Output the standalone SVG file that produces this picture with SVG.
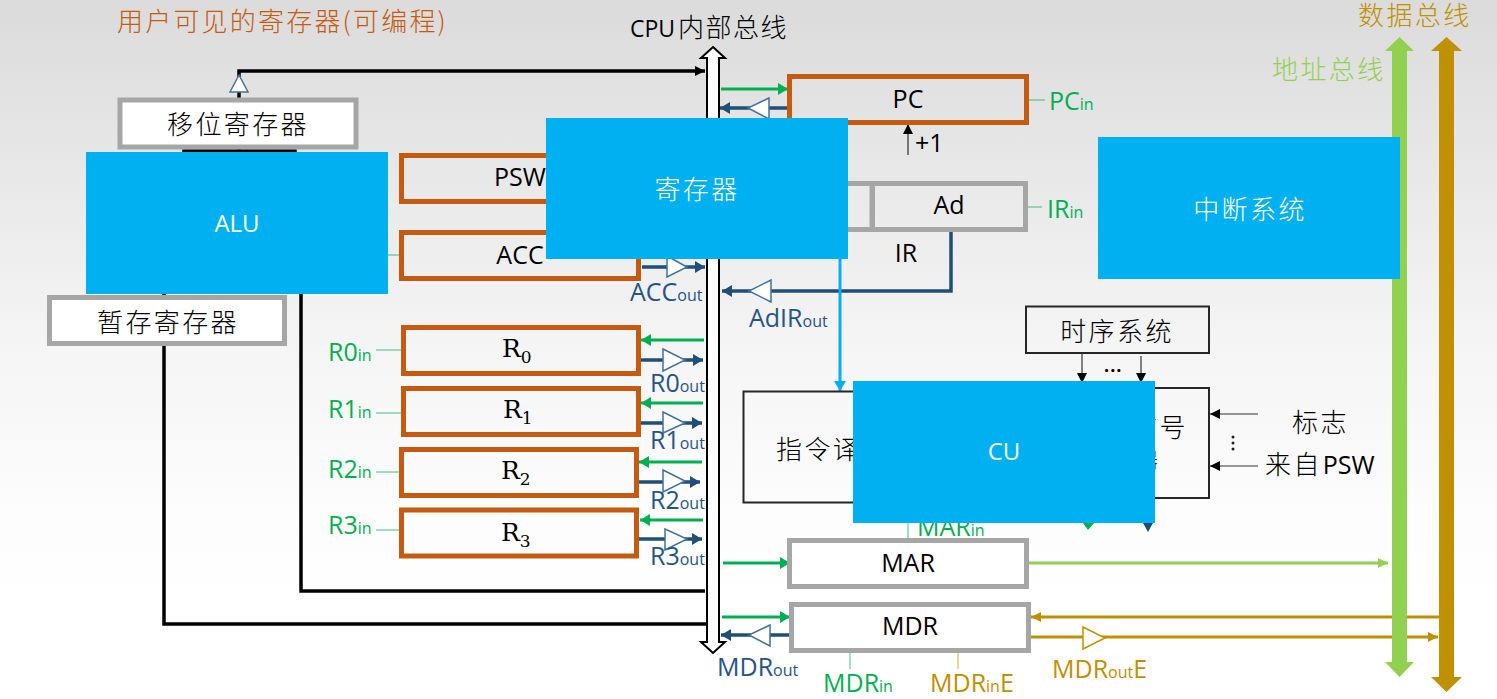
<svg xmlns="http://www.w3.org/2000/svg" width="1497" height="699" viewBox="0 0 1497 699">
  <style>
    text { font-family: "Open Sans", "Noto Sans CJK SC", sans-serif; font-size: 25px; fill: #000; }
    .cjk { font-family: "Noto Sans CJK SC", sans-serif; font-size: 26px; letter-spacing: 2.4px; font-weight: 300; }
    .mid { text-anchor: middle; }
    .math { font-family: "DejaVu Serif", "Liberation Serif", serif; font-size: 25px; }
    .math tspan { font-size: 17px; }
    .sig tspan { font-size: 16px; }
    .green { fill: #00b050; }
    .blue { fill: #255487; }
    .gold { fill: #bf9000; }
    .lime { fill: #92d050; }
    .white { fill: #fff; font-size: 24px; }
    .reg { fill: none; stroke: #c55a11; stroke-width: 5; }
    .grey { fill: none; stroke: #a6a6a6; stroke-width: 5; }
    .solid { fill: #fff; stroke: #a6a6a6; stroke-width: 5; }
    .plain { fill: none; stroke: #262626; stroke-width: 2; }
    .block { fill: #00b0f0; }
    .line { fill: none; stroke-width: 3; }
    .k { stroke: #000; stroke-width: 3.5; fill: none; }
    .g { stroke: #00b050; }
    .b { stroke: #1f4e79; stroke-width: 3.5; }
    .o { stroke: #bf9000; }
    .l { stroke: #92d050; }
    .tick { fill: none; stroke: #00b050; stroke-width: 1; opacity: 0.75; }
    .buf { fill: #fff; stroke: #41719c; stroke-width: 1.5; }
    .bufo { fill: #fff; stroke: #bf9000; stroke-width: 1.5; }
    .thin { fill: none; stroke: #333; stroke-width: 1.2; }
    .bus { fill: #fff; stroke: #000; stroke-width: 2; }
  </style>
  <defs>
    <linearGradient id="bg" x1="0" y1="0" x2="0" y2="1">
      <stop offset="0" stop-color="#dbdbdb"/>
      <stop offset="0.15" stop-color="#e3e3e3"/>
      <stop offset="0.5" stop-color="#f5f5f5"/>
      <stop offset="0.75" stop-color="#fdfdfd"/>
      <stop offset="0.88" stop-color="#ffffff"/>
    </linearGradient>
    <marker id="ag" markerUnits="userSpaceOnUse" markerWidth="12" markerHeight="12" refX="10" refY="6" orient="auto"><path d="M0 0L10 6L0 12Z" fill="#00b050"/></marker>
    <marker id="ab" markerUnits="userSpaceOnUse" markerWidth="12" markerHeight="12" refX="10" refY="6" orient="auto"><path d="M0 0L10 6L0 12Z" fill="#1f4e79"/></marker>
    <marker id="ao" markerUnits="userSpaceOnUse" markerWidth="12" markerHeight="12" refX="10" refY="6" orient="auto"><path d="M0 1L10 6L0 11Z" fill="#bf9000"/></marker>
    <marker id="al" markerUnits="userSpaceOnUse" markerWidth="12" markerHeight="12" refX="10" refY="6" orient="auto"><path d="M0 1L10 6L0 11Z" fill="#92d050"/></marker>
    <marker id="ak" markerUnits="userSpaceOnUse" markerWidth="12" markerHeight="12" refX="10" refY="6" orient="auto"><path d="M0 1L10 6L0 11Z" fill="#000"/></marker>
    <marker id="ac" markerUnits="userSpaceOnUse" markerWidth="12" markerHeight="12" refX="10" refY="6" orient="auto"><path d="M0 0L10 6L0 12Z" fill="#00b0f0"/></marker>
  </defs>

  <rect width="1497" height="699" fill="url(#bg)"/>

  <!-- headings -->
  <text class="cjk" x="117" y="31" style="fill:#c55a11;letter-spacing:2.2px">用户可见的寄存器(可编程)</text>
  <text x="630" y="37" style="font-size:23px">CPU<tspan class="cjk" dx="3" style="letter-spacing:1.5px">内部总线</tspan></text>
  <text class="cjk gold" x="1358" y="25">数据总线</text>
  <text class="cjk lime" x="1272" y="79">地址总线</text>

  <!-- wiring -->
  <g id="connectors">
    <path class="k" d="M164 294V624H706"/>
    <path class="k" d="M301 294V591H705"/>
    <path class="k" d="M239 98V71H705" marker-end="url(#ak)"/>
    <path class="k" d="M239 146V152M184 152V151H295V152"/>

    <path class="tick" d="M388 255H401M376 350H402M376 413H402M376 472H402M376 530H402M1027 100H1045M1024 207H1042M908 523V541M850 651V669"/>
    <path class="tick" style="stroke:#bf9000" d="M958 651V669"/>

    <!-- register load lines -->
    <path class="line g" d="M704 340H641" marker-end="url(#ag)"/>
    <path class="line g" d="M703 403H641" marker-end="url(#ag)"/>
    <path class="line g" d="M702 462H639" marker-end="url(#ag)"/>
    <path class="line g" d="M703 520H640" marker-end="url(#ag)"/>
    <path class="line g" d="M721 89H788" marker-end="url(#ag)"/>
    <path class="line g" d="M723 563H790" marker-end="url(#ag)"/>
    <path class="line g" d="M722 617H790" marker-end="url(#ag)"/>

    <!-- register output lines -->
    <path class="line b" d="M642 267H705" marker-end="url(#ab)"/>
    <path class="line b" d="M640 360H703" marker-end="url(#ab)"/>
    <path class="line b" d="M639 423H702" marker-end="url(#ab)"/>
    <path class="line b" d="M637 482H700" marker-end="url(#ab)"/>
    <path class="line b" d="M639 539H702" marker-end="url(#ab)"/>
    <path class="line b" d="M789 108H720" marker-end="url(#ab)"/>
    <path class="line b" d="M951 231V291H722" marker-end="url(#ab)"/>
    <path class="line b" d="M790 635H721" marker-end="url(#ab)"/>

    <!-- external buses -->
    <path class="line l" d="M1029 563H1388" marker-end="url(#al)"/>
    <path class="line o" d="M1439 617H1031" marker-end="url(#ao)"/>
    <path class="line o" d="M1031 637H1438" marker-end="url(#ao)"/>

    <!-- control lines -->
    <path class="line" style="stroke:#00b0f0" d="M840 259V391" marker-end="url(#ac)"/>
    <path class="thin" style="stroke:#777;stroke-width:2" d="M908 155V124" marker-end="url(#ak)"/>
    <path class="thin" d="M1082 353V383" marker-end="url(#ak)"/>
    <path class="thin" d="M1141 356V383" marker-end="url(#ak)"/>
    <path class="thin" d="M1258 414H1210" marker-end="url(#ak)"/>
    <path class="thin" d="M1258 466H1210" marker-end="url(#ak)"/>
    <path d="M1083 523H1094L1088 530Z" fill="#00b050"/>
    <path d="M1143 523H1153L1148 532Z" fill="#1f4e79"/>

    <!-- tri-state buffers -->
    <path class="buf" d="M230 92L239 75L248 92Z"/>
    <path class="buf" d="M667 256L687 267L667 277Z"/>
    <path class="buf" d="M663 349L685 360L663 371Z"/>
    <path class="buf" d="M663 412L685 423L663 433Z"/>
    <path class="buf" d="M663 470L685 481L663 492Z"/>
    <path class="buf" d="M665 529L687 539L665 550Z"/>
    <path class="buf" d="M769 98L748 108L769 119Z"/>
    <path class="buf" d="M771 280L749 291L771 302Z"/>
    <path class="buf" d="M770 625L749 635L770 646Z"/>
    <path class="bufo" d="M1083 627L1105 638L1083 649Z"/>

    <!-- bus arrows -->
    <path class="bus" d="M713 47L725 58H719V642H725L713 653L701 642H707V58H701Z"/>
    <path fill="#92d050" d="M1399.500 37L1414 51H1407V662H1414L1399.500 677L1385 662H1392V51H1385Z"/>
    <path fill="#bf9000" d="M1446.500 37L1462 51H1454V677H1462L1446.500 692L1431 677H1439V51H1431Z"/>
  </g>

  <!-- registers and units -->
  <g id="shift-reg"><rect class="solid" x="120" y="100" width="236" height="47"/><text class="cjk mid" x="238" y="134">移位寄存器</text></g>
  <g id="temp-reg"><rect class="solid" x="49.500" y="297.500" width="235" height="46"/><text class="cjk mid" x="168" y="332">暂存寄存器</text></g>
  <g id="psw"><rect class="reg" x="401.500" y="155.500" width="237" height="46"/><text class="mid" x="520" y="186">PSW</text></g>
  <g id="acc"><rect class="reg" x="401.500" y="232.500" width="237" height="46"/><text class="mid" x="520" y="264">ACC</text></g>
  <g id="r0"><rect class="reg" x="403.500" y="327.500" width="235" height="46"/><text class="math" x="502" y="357">R<tspan dy="6">0</tspan></text></g>
  <g id="r1"><rect class="reg" x="403.500" y="388.500" width="235" height="46"/><text class="math" x="503" y="418">R<tspan dy="6">1</tspan></text></g>
  <g id="r2"><rect class="reg" x="401.500" y="449.500" width="235" height="46"/><text class="math" x="501" y="479">R<tspan dy="6">2</tspan></text></g>
  <g id="r3"><rect class="reg" x="401.500" y="510" width="235" height="46"/><text class="math" x="501" y="541">R<tspan dy="6">3</tspan></text></g>
  <g id="pc"><rect class="reg" x="789.500" y="76.500" width="237" height="46"/><text class="mid" x="908" y="108">PC</text></g>
  <g id="ir"><rect class="grey" x="790" y="183.500" width="82" height="46"/><rect class="grey" x="872.500" y="183.500" width="153" height="46"/><text class="mid" x="949" y="214">Ad</text><text class="mid" x="906" y="262">IR</text></g>
  <g id="mar"><rect class="solid" x="789.500" y="540.500" width="237" height="46"/><text class="mid" x="908" y="572">MAR</text></g>
  <g id="mdr"><rect class="solid" x="791.500" y="604.500" width="237" height="46"/><text class="mid" x="910" y="635">MDR</text></g>
  <g id="timing"><rect class="plain" x="1026" y="306.500" width="183" height="46.500"/><text class="cjk mid" x="1117" y="341">时序系统</text></g>
  <g id="decoder"><rect class="plain" x="743.500" y="391.500" width="160" height="111"/><text class="cjk" x="776" y="459">指令译</text></g>
  <g id="signals"><rect class="plain" x="1010" y="388" width="199" height="110"/><text class="cjk" x="1131" y="437">信号</text><text class="cjk" x="1138" y="468" style="font-size:20px">器</text></g>

  <!-- signal names -->
  <g class="sig">
    <text class="green" x="328" y="361">R0<tspan>in</tspan></text>
    <text class="green" x="328" y="418">R1<tspan>in</tspan></text>
    <text class="green" x="328" y="478">R2<tspan>in</tspan></text>
    <text class="green" x="328" y="534">R3<tspan>in</tspan></text>
    <text class="green" x="1049" y="110">PC<tspan>in</tspan></text>
    <text class="green" x="1047" y="218">IR<tspan>in</tspan></text>
    <text class="green" x="917" y="536">MAR<tspan>in</tspan></text>
    <text class="green" x="823" y="692">MDR<tspan>in</tspan></text>
    <text class="gold" x="930" y="692">MDR<tspan>in</tspan>E</text>
    <text class="gold" x="1052" y="678">MDR<tspan>out</tspan>E</text>
    <text class="blue" x="630" y="301">ACC<tspan>out</tspan></text>
    <text class="blue" x="749" y="327">AdIR<tspan>out</tspan></text>
    <text class="blue" x="650" y="392">R0<tspan>out</tspan></text>
    <text class="blue" x="650" y="449">R1<tspan>out</tspan></text>
    <text class="blue" x="650" y="509">R2<tspan>out</tspan></text>
    <text class="blue" x="650" y="565">R3<tspan>out</tspan></text>
    <text class="blue" x="717" y="676">MDR<tspan>out</tspan></text>
  </g>
  <text x="915" y="152">+1</text>
  <text x="1104" y="372" style="font-size:18px;font-weight:700;letter-spacing:1px">...</text>
  <g fill="#222"><circle cx="1233" cy="437" r="1.500"/><circle cx="1233" cy="443" r="1.500"/><circle cx="1233" cy="449" r="1.500"/></g>
  <text class="cjk" x="1292" y="432">标志</text>
  <text class="cjk" x="1265" y="474">来自<tspan dx="1" style="font-family:'Open Sans',sans-serif;font-size:25px;font-weight:400;letter-spacing:0">PSW</tspan></text>

  <!-- functional blocks laid over the datapath -->
  <g id="alu"><rect class="block" x="86" y="152" width="302" height="142"/><text class="white mid" x="237" y="232">ALU</text></g>
  <g id="registers"><rect class="block" x="546" y="118" width="302" height="141"/><text class="cjk white mid" x="697" y="199" style="font-size:26px">寄存器</text></g>
  <g id="interrupt"><rect class="block" x="1098" y="137" width="302" height="142"/><text class="cjk white mid" x="1250" y="219" style="font-size:26px">中断系统</text></g>
  <g id="cu"><rect class="block" x="853" y="381" width="302" height="142"/><text class="white mid" x="1004" y="460">CU</text></g>
</svg>
